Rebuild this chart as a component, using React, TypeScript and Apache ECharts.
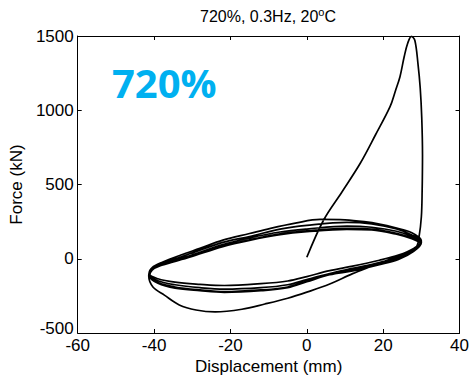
import React, { useEffect, useRef } from "react";
import * as echarts from "echarts";

// Displacement (mm) / Force (kN)
const initialDisp = [0, 4.4, 9.2, 14, 18, 21.8, 23.2, 24.4, 25.5, 26.4, 27.4, 28.3, 29.1, 29.7, 30.1, 30.3, 30.2, 30, 29.4, 28.7];
const initialForce = [10, 261, 450, 643, 835, 1024, 1130, 1226, 1360, 1450, 1497, 1470, 1316, 1150, 950, 700, 450, 283, 149, 81];

const loop1Disp = [26, 22, 17, 12, 6, 0, -5, -11, -17, -24, -29, -33.4, -37.3, -40.3, -41.4, -40.5, -37.7, -33, -28, -22, -15, -9.5, -3, 3.5, 10, 15, 19, 23, 27.5, 30];
const loop1Force = [40, 0, -50, -100, -170, -225, -266, -305, -340, -358, -345, -311, -245, -190, -115, -60, -22, 25, 70, 125, 170, 205, 240, 265, 262, 250, 234, 210, 175, 120];

const loop2Disp = [28, 24, 19, 12, 6, 0, -5, -12, -21.6, -28, -34.5, -39, -41.3, -40.5, -38, -35, -30.5, -22, -15, -7, 0, 10.5, 17, 23.5, 27.5, 30];
const loop2Force = [70, 25, -10, -50, -80, -120, -150, -168, -180, -172, -158, -135, -100, -60, -28, -5, 35, 110, 150, 200, 225, 245, 235, 200, 160, 118];

const loop3Disp = [28, 24, 19, 12, 6, 0, -5, -12, -21.6, -28, -34.5, -39, -41.3, -40.5, -38, -35, -30.5, -22, -15, -7, 0, 10.5, 17, 23.5, 27.5, 30];
const loop3Force = [60, 10, -25, -65, -100, -140, -175, -195, -205, -195, -175, -148, -108, -66, -34, -12, 22, 95, 140, 180, 200, 220, 212, 185, 150, 112];

const loop4Disp = [28, 24, 19, 12, 6, 0, -5, -12, -21.6, -28, -34.5, -39, -41.3, -40.5, -38, -35, -30.5, -22, -15, -7, 0, 10.5, 17, 23.5, 27.5, 30];
const loop4Force = [55, 0, -35, -75, -105, -150, -190, -210, -222, -210, -190, -160, -115, -72, -40, -18, 15, 85, 128, 168, 188, 205, 200, 172, 140, 108];

const loop5Disp = [28, 24, 19, 12, 6, 0, -5, -12, -21.6, -28, -34.5, -39, -41.2, -40.5, -38, -35, -30.5, -22, -15, -7, 0, 10.5, 17, 23.5, 27.5, 30];
const loop5Force = [50, -5, -40, -82, -108, -155, -195, -215, -226, -215, -198, -165, -118, -76, -44, -22, 12, 82, 124, 162, 182, 198, 194, 165, 135, 104];

const xTicks = { min: -60, max: 40, interval: 20 };
const yTicks = { min: -500, max: 1500, interval: 500 };

const titleText = "720%, 0.3Hz, 20";
const xName = "Displacement (mm)";
const yName = "Force (kN)";
const bigLabel = "720%";

const FONT = "'Liberation Sans', Arial, sans-serif";

function pairs(xs: number[], ys: number[]) {
  return xs.map((x, i) => [x, ys[i]]);
}

export default function App() {
  const ref = useRef<HTMLDivElement>(null);
  useEffect(() => {
    if (!ref.current) return;
    const chart = echarts.init(ref.current, undefined, { renderer: "svg" });
    const data = [
      ...pairs(initialDisp, initialForce),
      ...pairs(loop1Disp, loop1Force),
      ...pairs(loop2Disp, loop2Force),
      ...pairs(loop3Disp, loop3Force),
      ...pairs(loop4Disp, loop4Force),
      ...pairs(loop5Disp, loop5Force),
    ];
    const axisCommon = {
      axisLine: { show: true, onZero: false, lineStyle: { color: "#000", width: 1 } },
      axisTick: { show: true, inside: true, length: 4, lineStyle: { color: "#000" } },
      splitLine: { show: false },
    };
    const fmt = (v: number) => String(v);
    const yFmt = (v: number) => (v === yTicks.min ? `{lo|${v}}` : String(v));
    chart.setOption({
      animation: false,
      grid: { left: 76, right: 12, top: 36, bottom: 48, containLabel: false },
      xAxis: [
        {
          type: "value",
          position: "bottom",
          ...xTicks,
          ...axisCommon,
          axisLabel: { color: "#000", fontSize: 17, fontFamily: FONT, margin: 5, lineHeight: 14, formatter: fmt },
          name: xName,
          nameLocation: "middle",
          nameGap: 25,
          nameTextStyle: { color: "#000", fontSize: 17, fontFamily: FONT },
        },
        {
          type: "value",
          position: "top",
          ...xTicks,
          ...axisCommon,
          axisLabel: { show: false },
        },
      ],
      yAxis: [
        {
          type: "value",
          position: "left",
          ...yTicks,
          ...axisCommon,
          axisLabel: {
            color: "#000",
            fontSize: 17,
            fontFamily: FONT,
            margin: 4,
            lineHeight: 12,
            formatter: yFmt,
            rich: {
              lo: { color: "#000", fontSize: 17, fontFamily: FONT, lineHeight: 12, padding: [0, 0, 10, 0] },
            },
          },
          name: yName,
          nameLocation: "middle",
          nameGap: 50,
          nameTextStyle: { color: "#000", fontSize: 17, fontFamily: FONT },
        },
        {
          type: "value",
          position: "right",
          ...yTicks,
          ...axisCommon,
          axisLabel: { show: false },
        },
      ],
      graphic: [
        {
          type: "text",
          x: 268,
          y: 16,
          style: {
            text: titleText + "{sup|o}C",
            fill: "#000",
            font: `16px ${FONT}`,
            textAlign: "center",
            textVerticalAlign: "middle",
            rich: {
              sup: { fontSize: 11, fontFamily: FONT, fill: "#000", verticalAlign: "top", padding: [0, 0, 8, 0] },
            },
          },
        },
        {
          type: "text",
          x: 112,
          y: 82,
          style: {
            text: bigLabel,
            fill: "#00B0F0",
            font: `bold 40px 'Open Sans', sans-serif`,
            textAlign: "left",
            textVerticalAlign: "middle",
          },
        },
      ],
      series: [
        {
          type: "line",
          xAxisIndex: 0,
          yAxisIndex: 0,
          data,
          showSymbol: false,
          smooth: 0.35,
          lineStyle: { color: "#000", width: 1.7 },
        },
      ],
    });
    return () => chart.dispose();
  }, []);
  return <div ref={ref} style={{ width: 472, height: 381, position: "absolute", left: 0, top: 0 }} />;
}
